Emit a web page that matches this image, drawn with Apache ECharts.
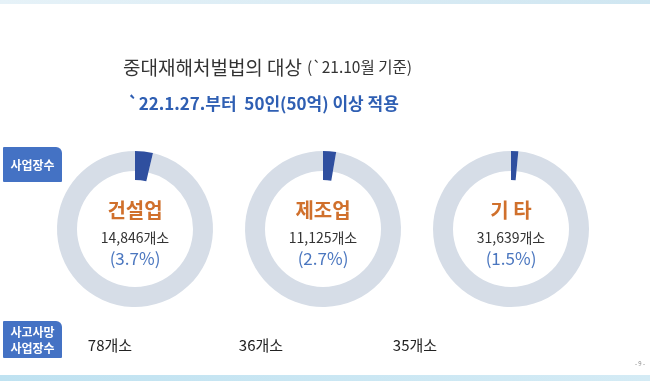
<!DOCTYPE html>
<html><head><meta charset="utf-8">
<script src="https://cdn.jsdelivr.net/npm/echarts@6/dist/echarts.min.js"></script>
<style>html,body{margin:0;padding:0;background:#fff}#c{width:650px;height:381px}</style>
</head><body><div id="c"></div>
<script>
const titleMain = '중대재해처벌법의 대상';
const titleNote = '(`21.10월 기준)';
const subtitle = '`22.1.27.부터  50인(50억) 이상 적용';
const categories = ['건설업', '제조업', '기 타'];
const siteCounts = [14846, 11125, 31639];
const shares = [3.7, 2.7, 1.5];
const deathSites = [78, 36, 35];
const rowLabels = ['사업장수', '사고사망\n사업장수'];

const FONT = '"Noto Sans CJK KR", "Noto Sans", sans-serif';
const cx = [135, 323, 511];
const cy = 229;
const countX = [110, 261, 415];

const series = [];
const graphic = [];
categories.forEach((cat, i) => {
  series.push({
    type: 'pie', silent: true, animation: false,
    center: [cx[i], cy], radius: [58, 78], startAngle: 90, clockwise: true,
    label: {show: false}, labelLine: {show: false},
    data: [
      {value: shares[i], itemStyle: {color: 'rgba(0,0,0,0)'}},
      {value: 100 - shares[i], itemStyle: {color: '#d6dde7'}}
    ]
  });
  series.push({
    type: 'pie', silent: true, animation: false,
    center: [cx[i], cy], radius: [49, 78], startAngle: 90, clockwise: true,
    label: {show: false}, labelLine: {show: false},
    data: [
      {value: shares[i], itemStyle: {color: '#2f4f9f'}},
      {value: 100 - shares[i], itemStyle: {color: 'rgba(0,0,0,0)'}}
    ]
  });
  graphic.push({type: 'text', x: cx[i], y: 210, style: {
    text: cat, font: 'bold 20px ' + FONT, fill: '#d0702c', textAlign: 'center', textVerticalAlign: 'middle'}});
  graphic.push({type: 'text', x: cx[i], y: 238, style: {
    text: siteCounts[i].toLocaleString('en-US') + '개소', font: '14px ' + FONT, fill: '#333333', textAlign: 'center', textVerticalAlign: 'middle'}});
  graphic.push({type: 'text', x: cx[i], y: 259, style: {
    text: '(' + shares[i].toFixed(1) + '%)', font: '17px ' + FONT, fill: '#4a76bf', textAlign: 'center', textVerticalAlign: 'middle'}});
  graphic.push({type: 'text', x: countX[i], y: 345, style: {
    text: deathSites[i] + '개소', font: '15px ' + FONT, fill: '#222222', textAlign: 'center', textVerticalAlign: 'middle'}});
});

// row label boxes
graphic.push({type: 'rect', shape: {x: 3, y: 147, width: 59, height: 35, r: [1, 6, 1, 1]}, style: {fill: '#4472c4'}});
graphic.push({type: 'text', x: 32.5, y: 165, style: {text: rowLabels[0], font: 'bold 12px ' + FONT, fill: '#ffffff', textAlign: 'center', textVerticalAlign: 'middle'}});
graphic.push({type: 'rect', shape: {x: 3, y: 321, width: 59, height: 37, r: [1, 6, 1, 1]}, style: {fill: '#4472c4'}});
graphic.push({type: 'text', x: 32.5, y: 340, style: {text: rowLabels[1], font: 'bold 12px ' + FONT, lineHeight: 16, fill: '#ffffff', textAlign: 'center', textVerticalAlign: 'middle'}});

// decorative bands and page number
graphic.push({type: 'rect', shape: {x: 0, y: 0, width: 650, height: 4}, style: {fill: new echarts.graphic.LinearGradient(0, 0, 1, 0, [{offset: 0, color: '#e6f2f8'}, {offset: 1, color: '#cfe6f1'}])}});
graphic.push({type: 'rect', shape: {x: 0, y: 375, width: 650, height: 6}, style: {fill: new echarts.graphic.LinearGradient(0, 0, 1, 0, [{offset: 0, color: '#bfe2f1'}, {offset: 1, color: '#d4ebf5'}])}});
graphic.push({type: 'text', x: 640, y: 364, style: {text: '- 9 -', font: '6px ' + FONT, fill: '#888888', textAlign: 'center', textVerticalAlign: 'middle'}});

const chart = echarts.init(document.getElementById('c'), null, {renderer: 'canvas'});
chart.setOption({
  backgroundColor: '#ffffff',
  animation: false,
  title: [
    {text: '{a|' + titleMain + '} {b|' + titleNote + '}', left: 123, top: 58, padding: 0,
     textStyle: {fontWeight: 'normal', rich: {
       a: {fontFamily: FONT, fontSize: 19, fontWeight: 'normal', color: '#333333'},
       b: {fontFamily: FONT, fontSize: 15.5, fontWeight: 'normal', color: '#333333'}}}},
    {text: subtitle, left: 128, top: 95, padding: 0,
     textStyle: {fontFamily: FONT, fontSize: 17, fontWeight: 'bold', color: '#2f5fb3'}}
  ],
  series: series,
  graphic: graphic
});
</script></body></html>
